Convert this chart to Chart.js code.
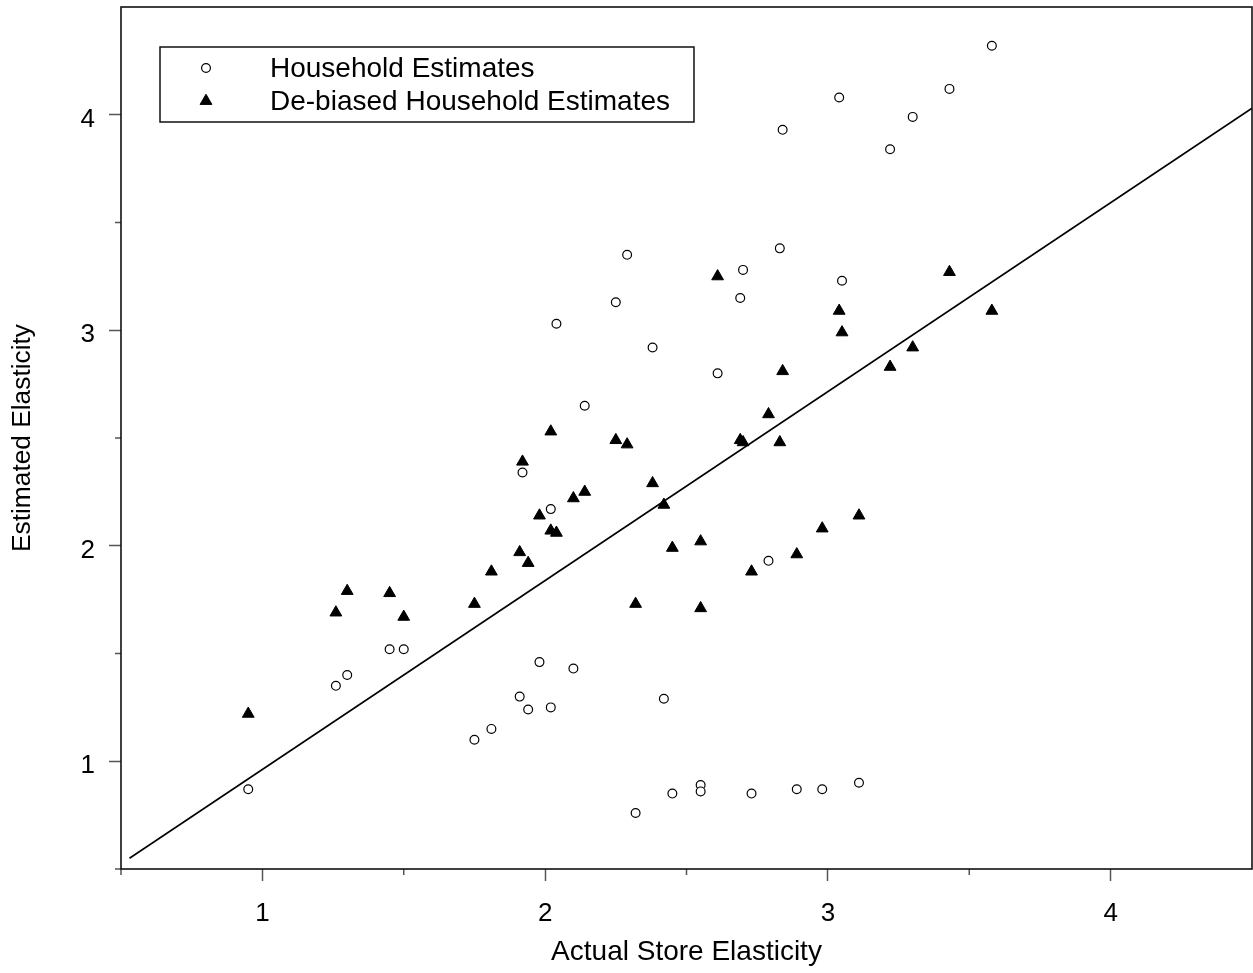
<!DOCTYPE html>
<html>
<head>
<meta charset="utf-8">
<title>Estimated vs Actual Store Elasticity</title>
<script src="https://cdn.jsdelivr.net/npm/chart.js"></script>
<style>
  html, body { margin: 0; padding: 0; background: #fff; }
  #wrap { width: 1253px; height: 973px; position: relative; }
</style>
</head>
<body>
<div id="wrap"><canvas id="chart"></canvas></div>
<script>
// one entry per store
const storeElasticity = [0.95, 1.26, 1.30, 1.45, 1.50, 1.75, 1.81, 1.91, 1.92, 1.94,
                         1.98, 2.02, 2.02, 2.04, 2.10, 2.14, 2.25, 2.29, 2.32, 2.38,
                         2.42, 2.45, 2.55, 2.55, 2.61, 2.69, 2.70, 2.73, 2.79, 2.83,
                         2.84, 2.89, 2.98, 3.04, 3.05, 3.11, 3.22, 3.30, 3.43, 3.58]
const householdEstimates = [0.87, 1.35, 1.40, 1.52, 1.52, 1.10, 1.15, 1.30, 2.34, 1.24,
                            1.46, 1.25, 2.17, 3.03, 1.43, 2.65, 3.13, 3.35, 0.76, 2.92,
                            1.29, 0.85, 0.89, 0.86, 2.80, 3.15, 3.28, 0.85, 1.93, 3.38,
                            3.93, 0.87, 0.87, 4.08, 3.23, 0.90, 3.84, 3.99, 4.12, 4.32]
const debiasedEstimates = [1.22, 1.69, 1.79, 1.78, 1.67, 1.73, 1.88, 1.97, 2.39, 1.92,
                           2.14, 2.07, 2.53, 2.06, 2.22, 2.25, 2.49, 2.47, 1.73, 2.29,
                           2.19, 1.99, 2.02, 1.71, 3.25, 2.49, 2.48, 1.88, 2.61, 2.48,
                           2.81, 1.96, 2.08, 3.09, 2.99, 2.14, 2.83, 2.92, 3.27, 3.09]
// fitted line, end points
const fitX = [0.53, 4.5]
const fitY = [0.55, 4.03]

const xTicks = [1, 2, 3, 4]
const yTicks = [1, 2, 3, 4]
const minorTicks = [0.5, 1.5, 2.5, 3.5]

const FONT = "'Liberation Sans', Arial, Helvetica, sans-serif"
Chart.defaults.font.family = FONT
Chart.defaults.color = "#000"

function toPoints(xs, ys){
    return xs.map(function(x, i){ return {x: x, y: ys[i]} })
}

function drawMarker(ctx, style, x, y){
    ctx.beginPath()
    if (style.pointStyle == "triangle"){
        const r = style.pointRadius
        ctx.moveTo(x, y - r)
        ctx.lineTo(x + Math.sin(2*Math.PI/3)*r, y + r/2)
        ctx.lineTo(x - Math.sin(2*Math.PI/3)*r, y + r/2)
        ctx.closePath()
    } else {
        ctx.arc(x, y, style.pointRadius, 0, Math.PI*2)
    }
    ctx.fillStyle = style.backgroundColor
    ctx.strokeStyle = style.borderColor
    ctx.lineWidth = style.borderWidth
    ctx.fill()
    ctx.stroke()
}

// keep the plot box where the reference has it: no extra room for edge labels
function fixAxis(size){
    return function(scale){
        if (scale.isHorizontal()) scale.height = size
        else scale.width = size
        scale.paddingTop = 0
        scale.paddingBottom = 0
        scale.paddingLeft = 0
        scale.paddingRight = 0
    }
}

// minor ticks (shorter) and the frame round the plot
const FramePlugin = {
    id: "frame",
    afterDraw(chart){
        const ctx = chart.ctx
        const area = chart.chartArea
        const xs = chart.scales.x, ys = chart.scales.y
        ctx.save()
        ctx.strokeStyle = "#555"
        ctx.lineWidth = 1.5
        ctx.beginPath()
        minorTicks.forEach(function(v){
            const px = xs.getPixelForValue(v)
            ctx.moveTo(px, area.bottom)
            ctx.lineTo(px, area.bottom + 6)
            const py = ys.getPixelForValue(v)
            ctx.moveTo(area.left, py)
            ctx.lineTo(area.left - 6, py)
        })
        ctx.stroke()
        ctx.strokeStyle = "#111"
        ctx.lineWidth = 1.6
        ctx.strokeRect(area.left, area.top, area.right - area.left, area.bottom - area.top)
        ctx.restore()
    }
}

// boxed legend in the upper left of the plot
const BoxLegend = {
    id: "boxLegend",
    afterDraw(chart){
        const ctx = chart.ctx
        const area = chart.chartArea
        const Items = chart.data.datasets.filter(function(d){ return d.inLegend })
        ctx.save()
        ctx.font = "28px " + FONT
        let TextWidth = 0
        Items.forEach(function(d){ TextWidth = Math.max(TextWidth, ctx.measureText(d.label).width) })
        const Left = area.left + 39
        const Top = area.top + 40
        const Width = 110 + TextWidth + 24
        const Height = 75
        ctx.fillStyle = "#fff"
        ctx.fillRect(Left, Top, Width, Height)
        ctx.strokeStyle = "#111"
        ctx.lineWidth = 1.5
        ctx.strokeRect(Left, Top, Width, Height)
        Items.forEach(function(d, i){
            const y = Top + 21 + i*33
            drawMarker(ctx, d, Left + 46, y)
            ctx.fillStyle = "#000"
            ctx.textBaseline = "middle"
            ctx.textAlign = "left"
            ctx.fillText(d.label, Left + 110, y + 1)
        })
        ctx.restore()
    }
}

new Chart(document.getElementById("chart"), {
    type: "scatter",
    data: {
        datasets: [
            {
                label: "Household Estimates",
                inLegend: true,
                data: toPoints(storeElasticity, householdEstimates),
                pointStyle: "circle",
                pointRadius: 4.4,
                borderWidth: 1.2,
                borderColor: "#000",
                backgroundColor: "#fff"
            },
            {
                label: "De-biased Household Estimates",
                inLegend: true,
                data: toPoints(storeElasticity, debiasedEstimates),
                pointStyle: "triangle",
                pointRadius: 6.8,
                borderWidth: 1,
                borderColor: "#000",
                backgroundColor: "#000"
            },
            {
                label: "Fit",
                type: "line",
                data: toPoints(fitX, fitY),
                borderColor: "#000",
                borderWidth: 1.6,
                pointRadius: 0,
                fill: false
            }
        ]
    },
    options: {
        responsive: true,
        maintainAspectRatio: false,
        animation: false,
        layout: {autoPadding: false, padding: {top: 7, right: 1, left: 0, bottom: 0}},
        plugins: {legend: {display: false}, tooltip: {enabled: false}},
        scales: {
            x: {
                type: "linear",
                min: 0.5,
                max: 4.5,
                afterBuildTicks: function(scale){ scale.ticks = xTicks.map(function(v){ return {value: v} }) },
                afterFit: fixAxis(104),
                grid: {drawOnChartArea: false, tickLength: 12, tickColor: "#555", tickWidth: 1.5},
                border: {display: false},
                ticks: {font: {size: 26}, padding: 17, maxRotation: 0},
                title: {display: true, text: "Actual Store Elasticity", font: {size: 28}, padding: {top: 0, bottom: 4}}
            },
            y: {
                type: "linear",
                min: 0.5,
                max: 4.5,
                afterBuildTicks: function(scale){ scale.ticks = yTicks.map(function(v){ return {value: v} }) },
                afterFit: fixAxis(121),
                grid: {drawOnChartArea: false, tickLength: 12, tickColor: "#555", tickWidth: 1.5},
                border: {display: false},
                ticks: {font: {size: 26}, padding: 14, labelOffset: 5},
                title: {display: true, text: "Estimated Elasticity", font: {size: 26.3}, padding: {top: 7, bottom: 0}}
            }
        }
    },
    plugins: [FramePlugin, BoxLegend]
})
</script>
</body>
</html>
